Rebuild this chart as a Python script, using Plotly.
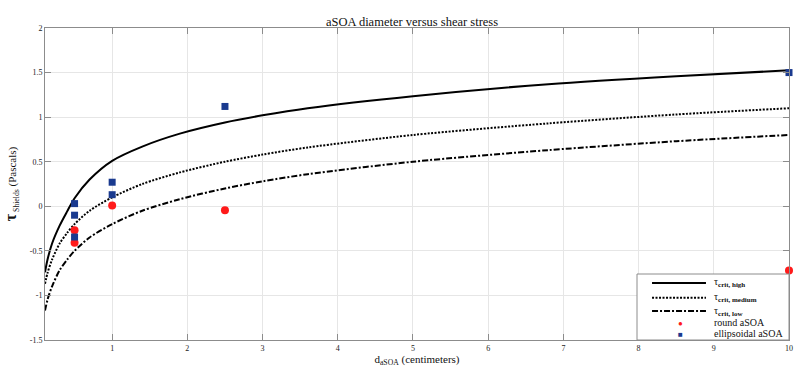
import plotly.graph_objects as go

# Curve sample points
curve_x = [0.107, 0.14, 0.2, 0.3, 0.4, 0.5, 0.7, 1, 1.4, 1.9, 2.5, 3, 3.6, 5, 6.8, 8.5, 10]
tau_high = [-0.74, -0.60, -0.42, -0.22, -0.06, 0.09, 0.30, 0.51, 0.67, 0.815, 0.94, 1.02, 1.10, 1.235, 1.37, 1.46, 1.525]
tau_medium = [-0.87, -0.75, -0.60, -0.42, -0.30, -0.20, -0.05, 0.10, 0.25, 0.38, 0.50, 0.58, 0.66, 0.80, 0.93, 1.03, 1.10]
tau_low = [-1.17, -1.05, -0.90, -0.72, -0.60, -0.50, -0.35, -0.20, -0.05, 0.08, 0.20, 0.28, 0.36, 0.50, 0.63, 0.73, 0.80]

round_x = [0.5, 0.5, 1, 2.5, 10]
round_y = [-0.27, -0.41, 0.01, -0.045, -0.72]

ellip_x = [0.5, 0.5, 0.5, 1, 1, 2.5, 10]
ellip_y = [0.03, -0.10, -0.345, 0.27, 0.13, 1.12, 1.50]

x_ticks = [1, 2, 3, 4, 5, 6, 7, 8, 9, 10]
y_ticks = [-1.5, -1, -0.5, 0, 0.5, 1, 1.5, 2]

legend_names = ["τ<sub><b>crit, high</b></sub>", "τ<sub><b>crit, medium</b></sub>", "τ<sub><b>crit, low</b></sub>",
                "round aSOA", "ellipsoidal aSOA"]

serif = "Liberation Serif, Times New Roman, serif"
RED = "#ff1a1a"
NAVY = "#1a3a8f"
DOT = "2px,1.5px"
DASHDOT = "6px,2px,2px,2px"

fig = go.Figure()
fig.add_trace(go.Scatter(x=curve_x, y=tau_high, mode="lines",
                         line=dict(color="black", width=2, shape="spline", smoothing=0.8),
                         name=legend_names[0]))
fig.add_trace(go.Scatter(x=curve_x, y=tau_medium, mode="lines",
                         line=dict(color="black", width=2, dash=DOT, shape="spline", smoothing=0.8),
                         name=legend_names[1]))
fig.add_trace(go.Scatter(x=curve_x, y=tau_low, mode="lines",
                         line=dict(color="black", width=2, dash=DASHDOT, shape="spline", smoothing=0.8),
                         name=legend_names[2]))
fig.add_trace(go.Scatter(x=round_x, y=round_y, mode="markers",
                         marker=dict(color=RED, size=8, symbol="circle"),
                         name=legend_names[3], cliponaxis=False))
fig.add_trace(go.Scatter(x=ellip_x, y=ellip_y, mode="markers",
                         marker=dict(color=NAVY, size=7, symbol="square"),
                         name=legend_names[4], cliponaxis=False))

# Compact legend box (Plotly's own legend rows are too tall for this layout)
bx0, bx1, by0, by1 = 0.7957, 1.0, 0.0, 0.2115
lx0, lx1, mx, tx = 0.8159, 0.8884, 0.8535, 0.8965
rows = [0.1827, 0.1356, 0.0929, 0.0567, 0.0215]
shapes = [dict(type="rect", xref="paper", yref="paper", x0=bx0, x1=bx1, y0=by0, y1=by1,
               line=dict(color="#8c8c8c", width=1), fillcolor="white", layer="above")]
for ry, dash in zip(rows[:3], ["solid", DOT, DASHDOT]):
    shapes.append(dict(type="line", xref="paper", yref="paper", x0=lx0, x1=lx1, y0=ry, y1=ry,
                       line=dict(color="black", width=2, dash=dash), layer="above"))
annotations = []
annotations.append(dict(xref="paper", yref="paper", x=mx, y=rows[3], text="●", showarrow=False,
                        font=dict(size=8, color=RED), xanchor="center", yanchor="middle"))
annotations.append(dict(xref="paper", yref="paper", x=mx, y=rows[4], text="■", showarrow=False,
                        font=dict(size=8, color=NAVY), xanchor="center", yanchor="middle"))
for ry, name in zip(rows, legend_names):
    annotations.append(dict(xref="paper", yref="paper", x=tx, y=ry, text=name, showarrow=False,
                            font=dict(family=serif, size=10, color="#111"), xanchor="left", yanchor="middle"))

axis_common = dict(showline=True, linecolor="#8c8c8c", linewidth=1, mirror="ticks",
                   ticks="inside", ticklen=6, tickcolor="#8c8c8c",
                   showgrid=True, gridcolor="#e6e6e6", zeroline=False, automargin=False,
                   tickfont=dict(family=serif, size=8, color="#222"))

fig.update_layout(
    width=800, height=378,
    margin=dict(l=45, r=11, t=28, b=38),
    paper_bgcolor="white", plot_bgcolor="white",
    showlegend=False,
    shapes=shapes, annotations=annotations,
    title=dict(text="aSOA diameter versus shear stress", x=0.515, xanchor="center", y=0.944, yanchor="middle",
               font=dict(family=serif, size=12.5, color="#111")),
    xaxis=dict(range=[0.107, 10], tickvals=x_ticks, ticktext=[str(v) for v in x_ticks],
               title=dict(text="d<sub>aSOA</sub> (centimeters)", font=dict(family=serif, size=11, color="#111"),
                          standoff=2),
               **axis_common),
    yaxis=dict(range=[-1.5, 2], tickvals=y_ticks, ticktext=["-1.5", "-1", "-0.5", "0", "0.5", "1", "1.5", "2"],
               title=dict(text="<span style='font-size:16px'><b>τ</b></span><sub> Shields</sub> (Pascals)",
                          font=dict(family=serif, size=11, color="#111"), standoff=10),
               **axis_common),
)

fig.write_html("out.html", config={"displayModeBar": False},
               post_script="document.body.style.margin='0';")
